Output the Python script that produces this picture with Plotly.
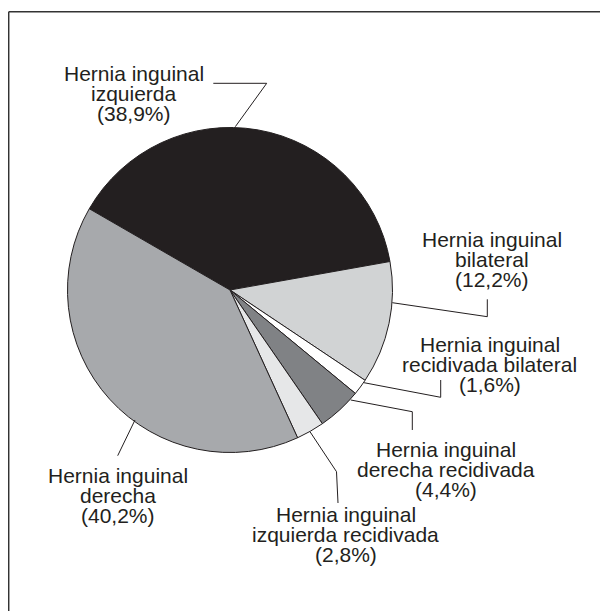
"""
Distribución de tipos de hernia inguinal - gráfico de sectores
"""
import plotly.graph_objects as go

# datos
categorias = [
    'Hernia inguinal izquierda',
    'Hernia inguinal bilateral',
    'Hernia inguinal recidivada bilateral',
    'Hernia inguinal derecha recidivada',
    'Hernia inguinal izquierda recidivada',
    'Hernia inguinal derecha',
]
porcentajes = [38.9, 12.2, 1.6, 4.4, 2.8, 40.2]
lineas_nombre = [
    ['Hernia inguinal', 'izquierda'],
    ['Hernia inguinal', 'bilateral'],
    ['Hernia inguinal', 'recidivada bilateral'],
    ['Hernia inguinal', 'derecha recidivada'],
    ['Hernia inguinal', 'izquierda recidivada'],
    ['Hernia inguinal', 'derecha'],
]

colores = ['#231f20', '#d1d3d4', '#ffffff', '#808285', '#e6e7e8', '#a7a9ac']
TINTA = '#231f20'
FUENTE = 'Liberation Sans, Arial, sans-serif'

# la página tiene un margen de 8 px en el body
OFF = 8
W, H = 600, 603
CX, CY, R = 230, 290, 162.5

# posición de cada etiqueta (centro x, línea base de la primera línea) en píxeles de pantalla
pos_etiquetas = [(133.7, 81), (491.8, 246.7), (489.8, 351.7),
                 (445.8, 456.7), (345.8, 521.7), (118.3, 482.7)]
# líneas guía (polilíneas en píxeles de pantalla)
guias = [
    [(235.3, 126.7), (266.7, 83.3), (213.3, 83.3)],
    [(392.3, 302.7), (487.3, 316.7), (487.3, 299.3)],
    [(364, 382.7), (440.7, 397.3), (440.7, 380)],
    [(350.7, 400), (412.3, 411.7), (412.3, 430)],
    [(310, 431.7), (336.5, 471.7), (338, 503)],
    [(135, 420), (117.7, 455.7)],
]


def px(x):
    return (x - OFF) / W


def py(y):
    return 1 - (y - OFF) / H


fig = go.Figure(go.Pie(
    labels=categorias,
    values=porcentajes,
    sort=False,
    direction='clockwise',
    rotation=300,
    marker=dict(colors=colores, line=dict(color=TINTA, width=1)),
    textinfo='none',
    hoverinfo='label+percent',
    showlegend=False,
    domain=dict(x=[px(CX - R), px(CX + R)], y=[py(CY + R), py(CY - R)]),
))

anotaciones = []
for nombre, valor, (cx, base) in zip(lineas_nombre, porcentajes, pos_etiquetas):
    textos = nombre + ['(' + f'{valor:.1f}'.replace('.', ',') + '%)']
    for i, t in enumerate(textos):
        anotaciones.append(dict(
            text=t, x=px(cx), y=py(base + 20 * i - 7.3),
            xref='paper', yref='paper', xanchor='center', yanchor='middle',
            showarrow=False, borderpad=0,
            font=dict(family=FUENTE, size=21, color=TINTA)
        ))

formas = []
for g in guias:
    ruta = 'M ' + ' L '.join(f'{px(x):.5f},{py(y):.5f}' for x, y in g)
    formas.append(dict(type='path', path=ruta, xref='paper', yref='paper',
                       line=dict(color=TINTA, width=1)))
# marco superior e izquierdo
formas.append(dict(type='line', x0=px(8.7), x1=1, y0=py(11.8), y1=py(11.8),
                   xref='paper', yref='paper', line=dict(color='#333333', width=1.5)))
formas.append(dict(type='line', x0=px(8.7), x1=px(8.7), y0=py(11.8), y1=0,
                   xref='paper', yref='paper', line=dict(color='#333333', width=1.5)))

fig.update_layout(
    width=W, height=H,
    margin=dict(t=0, b=0, l=0, r=0),
    paper_bgcolor='white', plot_bgcolor='white',
    annotations=anotaciones,
    shapes=formas,
)
fig.write_html('out.html')
